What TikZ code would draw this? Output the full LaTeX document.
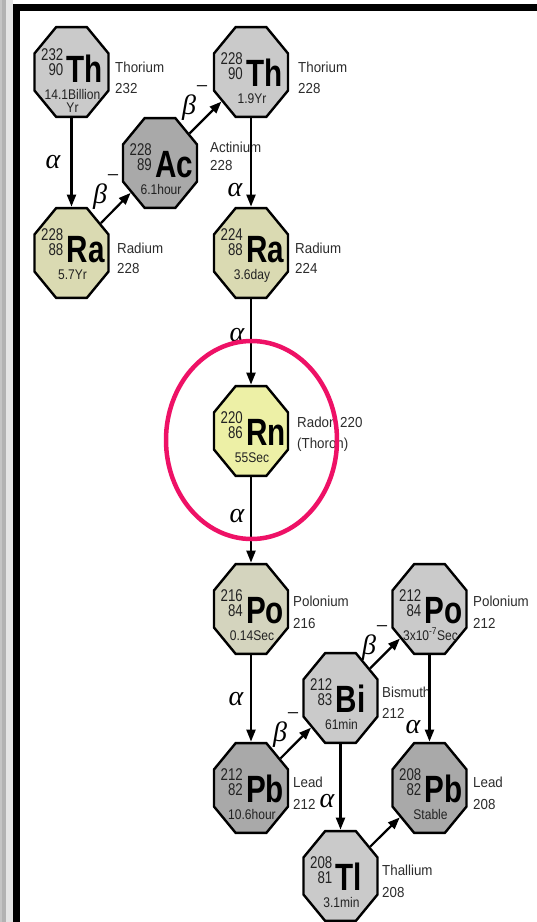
\documentclass[tikz,border=0pt]{standalone}
\usepackage{fontspec}
\setmainfont{Liberation Sans}
\newfontfamily\symfont[FakeStretch=0.78]{Liberation Sans}
\newfontfamily\numfont[FakeStretch=0.78]{Liberation Sans}
\newfontfamily\halffont[FakeStretch=0.86]{Liberation Sans}
\newfontfamily\namefont[FakeStretch=0.92]{Liberation Sans}
\newfontfamily\greekfont{Liberation Serif}
\usetikzlibrary{shapes.geometric,arrows.meta}

\definecolor{fillLight}{HTML}{CACACA}
\definecolor{fillDark}{HTML}{A9A9A9}
\definecolor{fillRa}{HTML}{DADAB2}
\definecolor{fillRn}{HTML}{EDF0A6}
\definecolor{fillPo}{HTML}{D4D4BE}
\definecolor{numcol}{HTML}{222222}
\definecolor{labelcol}{HTML}{2C2C2C}
\definecolor{ringcol}{HTML}{EE1166}
\definecolor{stripA}{HTML}{C4C4C4}
\definecolor{stripB}{HTML}{B2B2B2}
\definecolor{stripC}{HTML}{E4E4E4}

\tikzset{
  octa/.style={regular polygon, regular polygon sides=8, minimum size=80pt,
    inner sep=0pt, draw=black, line width=2.4pt, yscale=1.216},
  massno/.style={anchor=base east, inner sep=0pt, text=numcol,
    font=\numfont\fontsize{17}{17}\selectfont},
  elsym/.style={anchor=base west, inner sep=0pt, text=black,
    font=\symfont\bfseries\fontsize{38}{38}\selectfont},
  halflife/.style={anchor=base, inner sep=0pt, text=numcol,
    font=\halffont\fontsize{14}{14}\selectfont},
  sidelabel/.style={anchor=base west, inner sep=0pt, text=labelcol,
    font=\namefont\fontsize{14.5}{14.5}\selectfont},
  decay/.style={line width=2.2pt, draw=black, -{Triangle[length=12pt,width=9pt]}},
  greek/.style={inner sep=0pt, font=\greekfont\itshape\fontsize{28}{28}\selectfont},
}

% one nuclide: name, x, y, fill, mass number, atomic number, symbol, half-life, text shift
\newcommand\nuclide[9]{%
  \node[octa, fill=#4] (#1) at (#2,#3) {};
  \node[massno] (#1-A) at (#2-8,#3-8+#9) {#5};
  \node[massno] (#1-Z) at (#2-8,#3+7+#9) {#6};
  \node[elsym] (#1-sym) at (#2-5,#3+14+#9) {#7};
  \node[halflife] (#1-t) at (#2+1,#3+31+#9) {#8};
}
\newcommand\betaminus{β\rlap{\raisebox{0.74em}{\upshape\fontsize{22}{22}\selectfont −}}}

\begin{document}
\begin{tikzpicture}[x=1pt,y=-1pt]
\useasboundingbox (0,0) rectangle (537,922);
\fill[white] (0,0) rectangle (537,922);
% window edge on the left and frame
\fill[stripA] (0,0) rectangle (2,922);
\fill[stripB] (2,0) rectangle (6,922);
\fill[stripC] (6,0) rectangle (12.5,922);
\fill[black] (12.5,4) rectangle (20,922);
\fill[black] (12.5,4) rectangle (537,11);

% nuclides
\nuclide{th232}{71.5}{72}{fillLight}{232}{90}{Th}{14.1Billion}{-4}
\node[halflife] (th232-t2) at (72.5,112) {Yr};
\nuclide{ac228}{160}{163}{fillDark}{228}{89}{Ac}{6.1hour}{0}
\nuclide{th228}{251}{72}{fillLight}{228}{90}{Th}{1.9Yr}{0}
\nuclide{ra228}{71.5}{253}{fillRa}{228}{88}{Ra}{5.7Yr}{-5}
\nuclide{ra224}{251}{253}{fillRa}{224}{88}{Ra}{3.6day}{-5}
\nuclide{rn220}{251}{431}{fillRn}{220}{86}{Rn}{55Sec}{0}
\nuclide{po216}{251}{609}{fillPo}{216}{84}{Po}{0.14Sec}{0}
\nuclide{po212}{429.5}{609}{fillLight}{212}{84}{Po}{3x10\textsuperscript{-7}Sec}{0}
\nuclide{bi212}{340.5}{698}{fillLight}{212}{83}{Bi}{61min}{0}
\nuclide{pb212}{251}{788}{fillDark}{212}{82}{Pb}{10.6hour}{0}
\nuclide{pb208}{429.5}{788}{fillDark}{208}{82}{Pb}{Stable}{0}
\nuclide{tl208}{340.5}{876}{fillLight}{208}{81}{Tl}{3.1min}{0}

% names beside the nuclides
\node[sidelabel] (th232-n) at (115,72) {Thorium};
\node[sidelabel] (th232-m) at (115,93) {232};
\node[sidelabel] (ac228-n) at (210,152) {Actinium};
\node[sidelabel] (ac228-m) at (210,170) {228};
\node[sidelabel] (th228-n) at (298,72) {Thorium};
\node[sidelabel] (th228-m) at (298,93) {228};
\node[sidelabel] (ra228-n) at (117,253) {Radium};
\node[sidelabel] (ra228-m) at (117,273) {228};
\node[sidelabel] (ra224-n) at (295,253) {Radium};
\node[sidelabel] (ra224-m) at (295,273) {224};
\node[sidelabel] (rn220-n) at (297,427) {Radon 220};
\node[sidelabel] (rn220-m) at (297,448) {(Thoron)};
\node[sidelabel] (po216-n) at (293,606) {Polonium};
\node[sidelabel] (po216-m) at (293,628) {216};
\node[sidelabel] (po212-n) at (473,606) {Polonium};
\node[sidelabel] (po212-m) at (473,628) {212};
\node[sidelabel] (bi212-n) at (382,697) {Bismuth};
\node[sidelabel] (bi212-m) at (382,718) {212};
\node[sidelabel] (pb212-n) at (293,787) {Lead};
\node[sidelabel] (pb212-m) at (293,809) {212};
\node[sidelabel] (pb208-n) at (473,787) {Lead};
\node[sidelabel] (pb208-m) at (473,809) {208};
\node[sidelabel] (tl208-n) at (382,875) {Thallium};
\node[sidelabel] (tl208-m) at (382,897) {208};

% decays
\draw[decay] (th232) -- (ra228);
\draw[decay] (ra228) -- (ac228);
\draw[decay] (ac228) -- (th228);
\draw[decay] (th228) -- (ra224);
\draw[decay] (ra224) -- (rn220);
\draw[decay] (rn220) -- (po216);
\draw[decay] (po216) -- (pb212);
\draw[decay] (pb212) -- (bi212);
\draw[decay] (bi212) -- (po212);
\draw[decay] (bi212) -- (tl208);
\draw[decay] (po212) -- (pb208);
\draw[decay] (tl208) -- (pb208);

% decay modes
\node[greek] (a1) at (53,162) {α};
\node[greek] (b1) at (100,192) {\betaminus};
\node[greek] (b2) at (189,103) {\betaminus};
\node[greek] (a2) at (235,190) {α};
\node[greek] (a3) at (237,335) {α};
\node[greek] (a4) at (237,516) {α};
\node[greek] (a5) at (236,699) {α};
\node[greek] (b3) at (280,730) {\betaminus};
\node[greek] (b4) at (369,643) {\betaminus};
\node[greek] (a6) at (327,801) {α};
\node[greek] (a7) at (413,727) {α};

% ring round radon
\draw[ringcol, line width=4.5pt] (251.5,440) ellipse [x radius=85.5pt, y radius=99pt];
\end{tikzpicture}
\end{document}
